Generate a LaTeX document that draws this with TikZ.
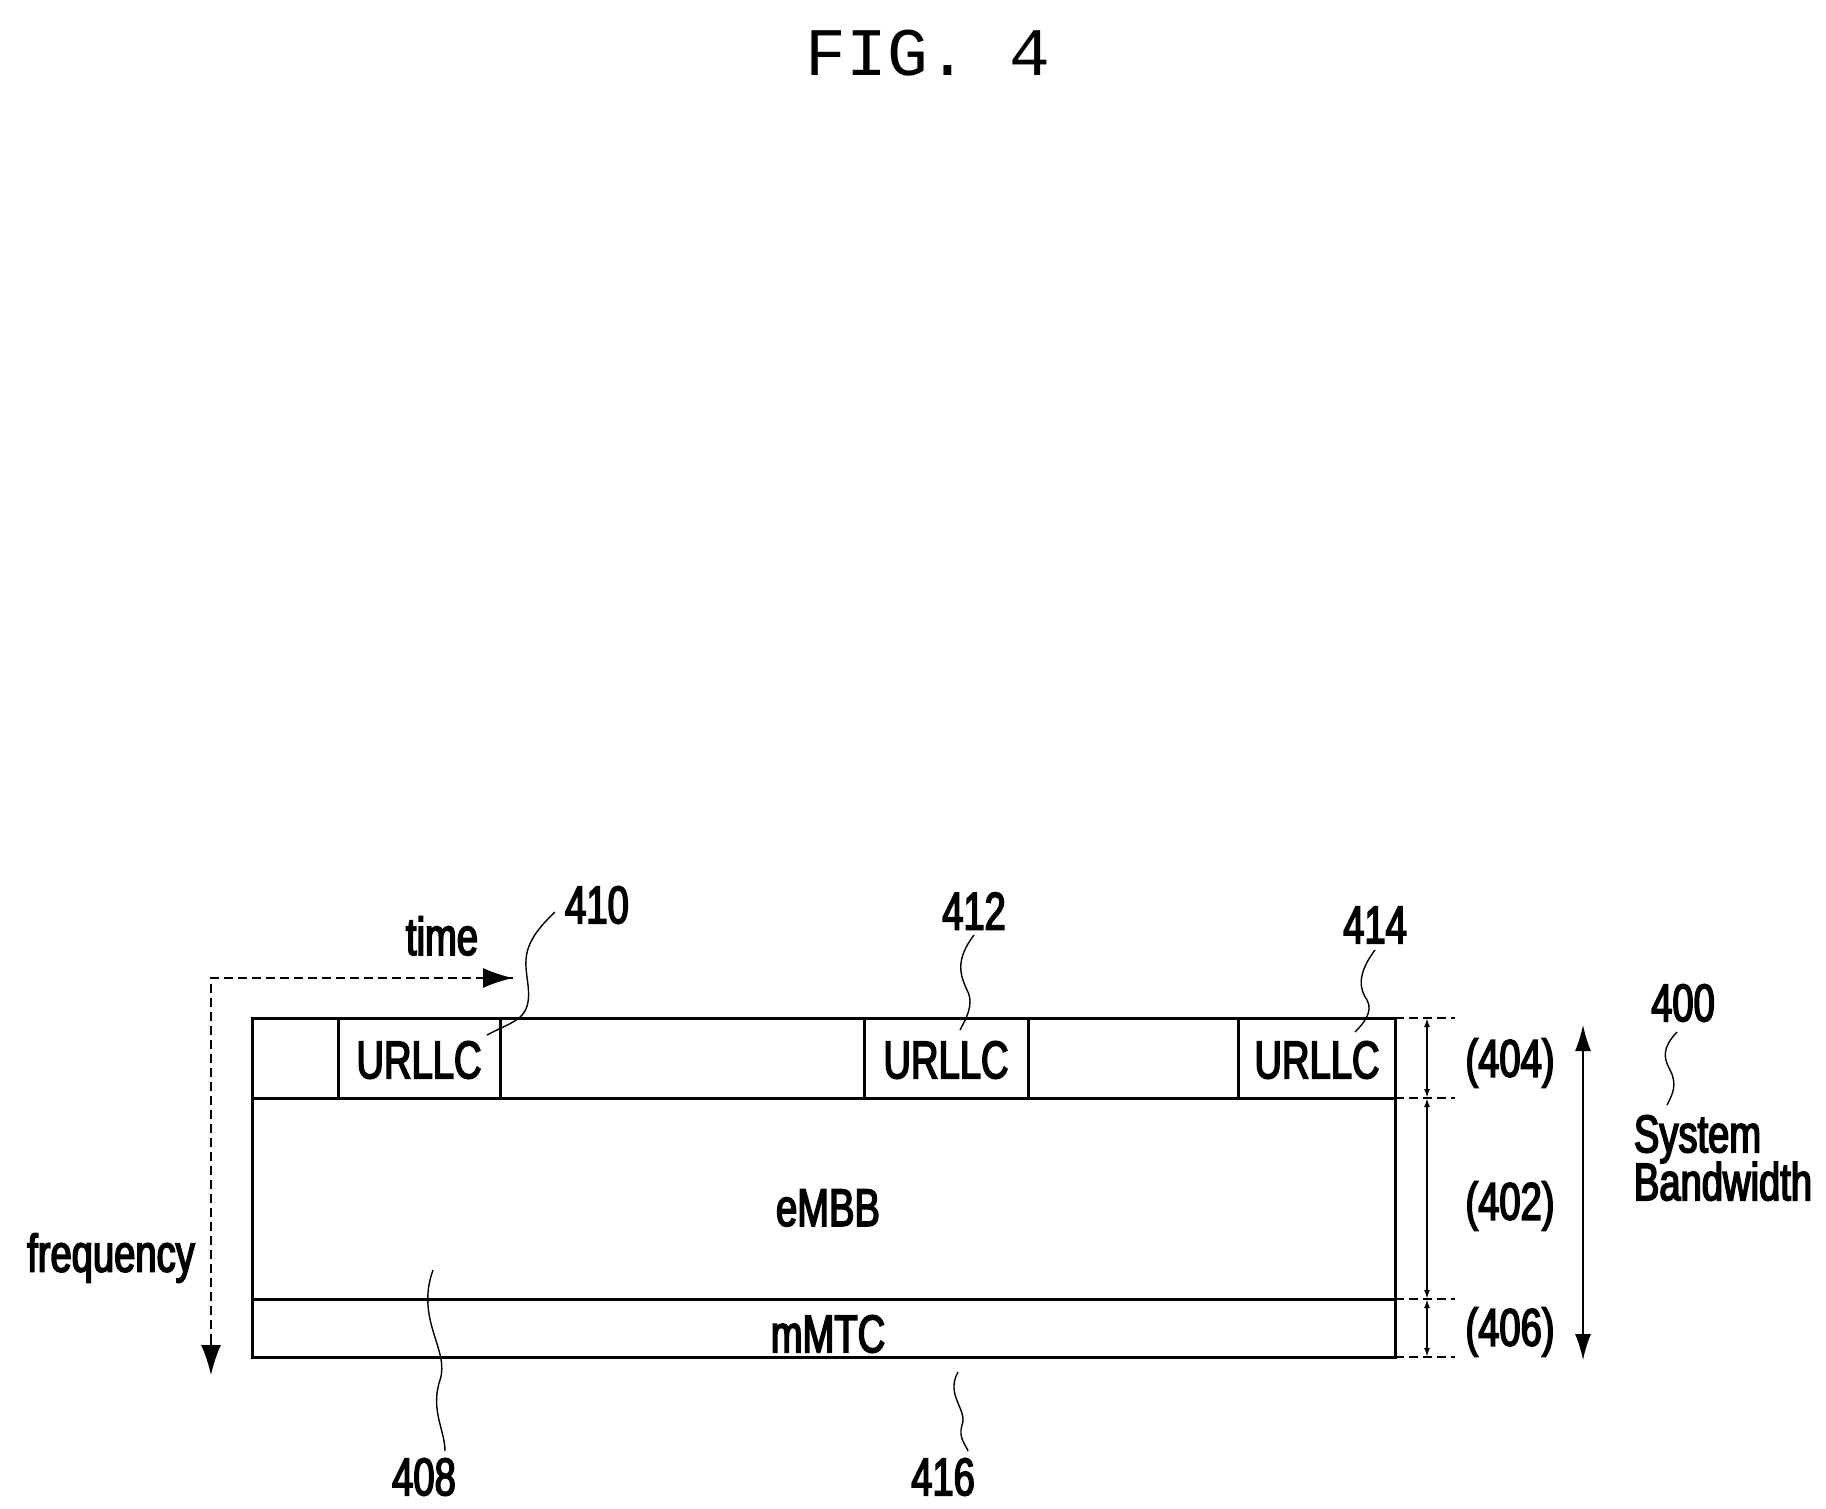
\documentclass[tikz,border=0pt]{standalone}
\usepackage{fontspec}
\setmainfont{Liberation Sans}[FakeStretch=0.72,FakeBold=3]
\newfontfamily\figfont{Liberation Mono}
\usetikzlibrary{arrows.meta}
\tikzset{
	lbl/.style={font=\fontsize{53}{56}\selectfont, inner sep=0pt},
	cell/.style={draw, line width=3pt},
	lead/.style={line width=1.4pt},
	guide/.style={dashed, line width=1.6pt, dash pattern=on 9pt off 5pt},
	tip/.style={-{Latex[length=30pt,width=20pt]}}
}
\begin{document}
\begin{tikzpicture}[x=1pt,y=-1pt]
	\useasboundingbox (0,0) rectangle (1826,1509);
	\node[font=\figfont\fontsize{68}{70}\selectfont] (fig) at (928,53) {FIG. 4};
	
	% grid of the band
	\draw[cell] (252,1018) rectangle (1395,1357);
	\draw[cell] (252,1098) -- (1395,1098);
	\draw[cell] (252,1299) -- (1395,1299);
	\draw[cell] (338,1018) -- (338,1098);
	\draw[cell] (500,1018) -- (500,1098);
	\draw[cell] (864,1018) -- (864,1098);
	\draw[cell] (1028,1018) -- (1028,1098);
	\draw[cell] (1238,1018) -- (1238,1098);
	
	\node[lbl] (u1) at (419,1060) {URLLC};
	\node[lbl] (u2) at (946,1060) {URLLC};
	\node[lbl] (u3) at (1317,1060) {URLLC};
	\node[lbl] (embb) at (828,1208) {eMBB};
	\node[lbl] (mmtc) at (828,1334) {mMTC};
	
	% axes
	\coordinate (corner) at (211,978);
	\coordinate (tend) at (513,978);
	\coordinate (fend) at (211,1375);
	\draw[guide] (tend) -- (corner) -- (fend);
	\draw[tip, line width=1.6pt] (480,978) -- (tend);
	\draw[tip, line width=1.6pt] (211,1340) -- (fend);
	\node[lbl] (time) at (442,936) {time};
	\node[lbl] (freq) at (111,1258) {frequency};
	
	% right side
	\foreach \y in {1018,1098,1299,1357} {
		\draw[guide, line width=1.3pt] (1395,\y) -- (1455,\y);
	}
	\foreach \a/\b in {1018/1098,1098/1299,1299/1357} {
		\draw[{Latex[length=9pt,width=6pt]}-{Latex[length=9pt,width=6pt]}, line width=2pt] (1427,\a) -- (1427,\b);
	}
	\node[lbl] (r404) at (1510,1063) {(404)};
	\node[lbl] (r402) at (1510,1206) {(402)};
	\node[lbl] (r406) at (1510,1332) {(406)};
	\coordinate (bwtop) at (1583,1025);
	\coordinate (bwbot) at (1583,1360);
	\draw[{Latex[length=26pt,width=16pt]}-{Latex[length=26pt,width=16pt]}, line width=1.5pt] (bwtop) -- (bwbot);
	\node[lbl] (n400) at (1683,1003) {400};
	\node[lbl, align=left] (sysbw) at (1723,1158) {System\\[-8pt]Bandwidth};
	
	% reference numerals
	\node[lbl] (n410) at (597,905) {410};
	\node[lbl] (n412) at (974,911) {412};
	\node[lbl] (n414) at (1375,925) {414};
	\node[lbl] (n408) at (424,1477) {408};
	\node[lbl] (n416) at (943,1477) {416};
	\draw[lead] (555,912) .. controls (520,945) and (525,960) .. (528,985) .. controls (532,1020) and (515,1020) .. (487,1035);
	\draw[lead] (974,935) .. controls (955,960) and (960,975) .. (967,990) .. controls (975,1005) and (965,1020) .. (960,1030);
	\draw[lead] (1375,950) .. controls (1356,975) and (1360,990) .. (1367,1000) .. controls (1374,1012) and (1362,1025) .. (1355,1032);
	\draw[lead] (1677,1032) .. controls (1660,1050) and (1665,1060) .. (1670,1070) .. controls (1678,1085) and (1672,1095) .. (1667,1105);
	\draw[lead] (433,1270) .. controls (415,1320) and (450,1350) .. (440,1380) .. controls (430,1410) and (445,1430) .. (445,1451);
	\draw[lead] (958,1372) .. controls (945,1395) and (968,1410) .. (962,1425) .. controls (958,1438) and (966,1445) .. (968,1451);
\end{tikzpicture}
\end{document}
